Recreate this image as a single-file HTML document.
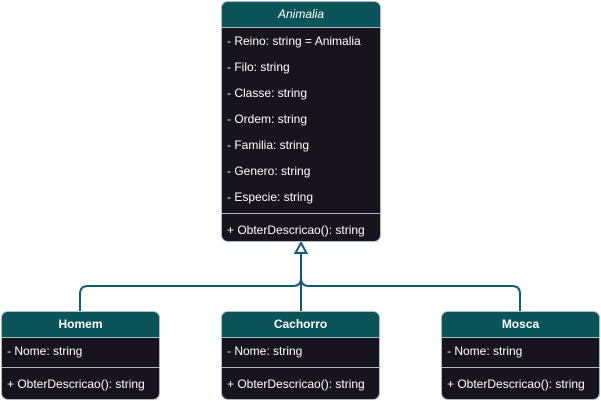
<!DOCTYPE html>
<html><head><style>
body{margin:0;width:601px;height:401px;background:#fff;overflow:hidden;position:relative;font-family:"Liberation Sans",Arial,sans-serif;}
.box{position:absolute;background:#18141d;border:1px solid #a9bccb;border-radius:7px;box-sizing:border-box;overflow:hidden;color:#fff;font-size:12px;}
.hd{background:#0b5459;text-align:center;font-weight:bold;font-size:12px;border-bottom:1px solid #a9bccb;box-sizing:border-box;}
.r{position:absolute;left:5px;white-space:nowrap;}
.sep{position:absolute;left:0;right:0;border-top:1px solid #a9bccb;}
</style></head><body>
<svg width="601" height="401" style="position:absolute;left:0;top:0">
<g fill="none" stroke="#0e5a78" stroke-width="2">
<path d="M80 311 V294 Q80 286 88 286 H293 Q301 286 301 278 V253"/>
<path d="M520 311 V294 Q520 286 512 286 H309 Q301 286 301 278"/>
<path d="M301 311 V253"/>
<path d="M295.5 253 L301 243 L306.5 253 Z" fill="#fff"/>
</g>
</svg>
<div class="box" style="left:221px;top:1px;width:160px;height:241px;">
<div class="hd" style="height:26px;line-height:25px;font-weight:normal;font-style:italic;">Animalia</div>
<div class="r" style="top:32px">- Reino: string = Animalia</div>
<div class="r" style="top:58px">- Filo: string</div>
<div class="r" style="top:84px">- Classe: string</div>
<div class="r" style="top:110px">- Ordem: string</div>
<div class="r" style="top:136px">- Familia: string</div>
<div class="r" style="top:162px">- Genero: string</div>
<div class="r" style="top:188px">- Especie: string</div>
<div class="sep" style="top:211px"></div>
<div class="r" style="top:221px">+ ObterDescricao(): string</div>
</div>
<div class="box" style="left:1px;top:311px;width:159px;height:89px;">
<div class="hd" style="height:26px;line-height:25px;">Homem</div>
<div class="r" style="top:32px">- Nome: string</div>
<div class="sep" style="top:55px"></div>
<div class="r" style="top:65px">+ ObterDescricao(): string</div>
</div>
<div class="box" style="left:221px;top:311px;width:159px;height:89px;">
<div class="hd" style="height:26px;line-height:25px;">Cachorro</div>
<div class="r" style="top:32px">- Nome: string</div>
<div class="sep" style="top:55px"></div>
<div class="r" style="top:65px">+ ObterDescricao(): string</div>
</div>
<div class="box" style="left:441px;top:311px;width:159px;height:89px;">
<div class="hd" style="height:26px;line-height:25px;">Mosca</div>
<div class="r" style="top:32px">- Nome: string</div>
<div class="sep" style="top:55px"></div>
<div class="r" style="top:65px">+ ObterDescricao(): string</div>
</div>
</body></html>
